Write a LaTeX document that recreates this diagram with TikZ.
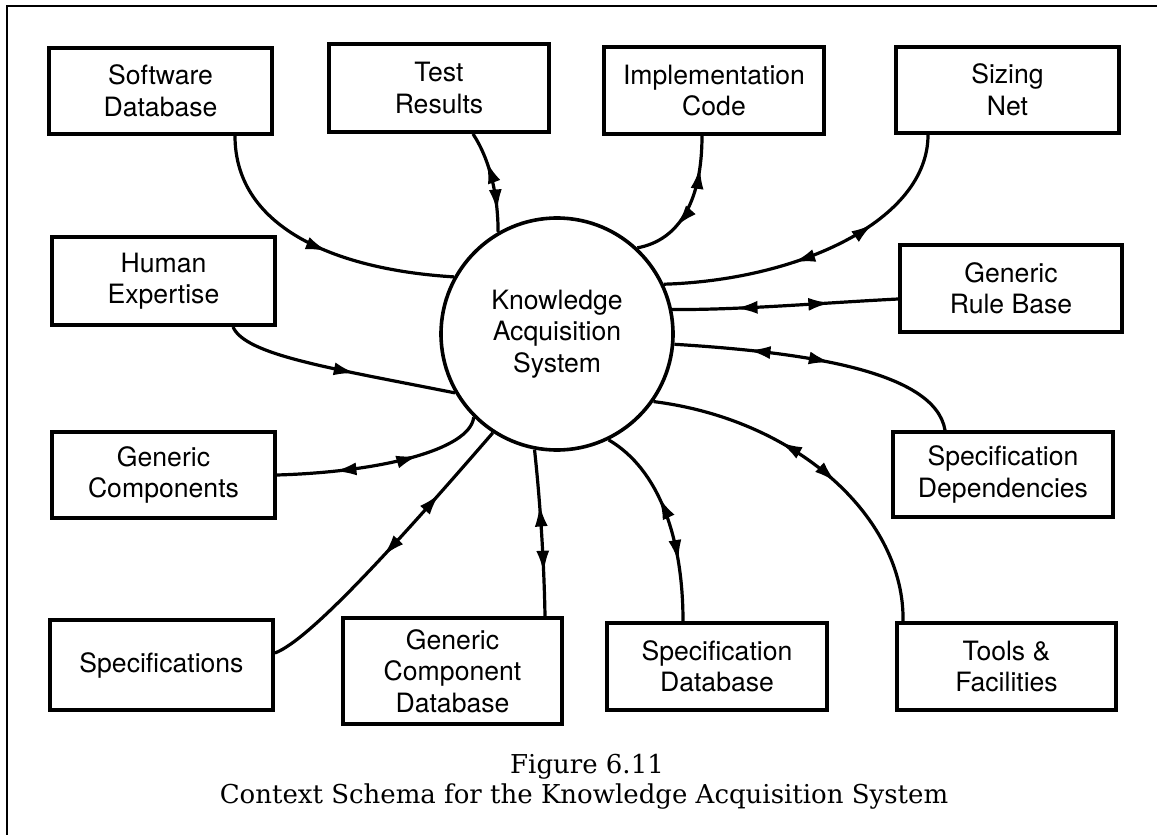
\documentclass[tikz,border=0pt]{standalone}
\usepackage{fontspec}
\newfontfamily\boxfont{TeX Gyre Heros}
\newfontfamily\capfont{DejaVu Serif}
\usetikzlibrary{arrows.meta,decorations.markings}
\tikzset{
  box/.style={draw, line width=1.9pt, align=center, inner sep=0pt,
    font=\boxfont\fontsize{13.3pt}{15.75pt}\selectfont},
  conn/.style={line width=1.6pt},
  fa/.style={postaction={decorate,decoration={markings,
    mark=at position #1 with {\arrow{Latex[length=11pt,width=6.5pt]}}}}},
  ra/.style={postaction={decorate,decoration={markings,
    mark=at position #1 with {\arrowreversed{Latex[length=11pt,width=6.5pt]}}}}},
  frameline/.style={line width=1.4pt},
  captext/.style={font=\capfont\fontsize{13pt}{15pt}\selectfont, inner sep=0pt}
}
\begin{document}
\begin{tikzpicture}[x=0.5pt,y=-0.5pt]
\useasboundingbox (0,0) rectangle (1157,835);
% frame
\coordinate (fbl) at (7,835);
\coordinate (ftl) at (7,6);
\coordinate (ftr) at (1157,6);
\draw[frameline] (fbl) -- (ftl) -- (ftr);

% central process
\node[circle, draw, line width=1.8pt, minimum size=116pt, inner sep=0pt, align=center,
  font=\boxfont\fontsize{13.3pt}{15.75pt}\selectfont] (K) at (557,334)
  {Knowledge\\Acquisition\\System};

% boxes
\node[box, minimum width=111.5pt, minimum height=43pt] (sd) at (160.5,91) {Software\\Database};
\node[box, minimum width=110pt, minimum height=44pt] (tr) at (439,88) {Test\\Results};
\node[box, minimum width=110pt, minimum height=43.5pt] (ic) at (714,90.5) {Implementation\\Code};
\node[box, minimum width=111.5pt, minimum height=43pt] (sn) at (1007.5,90) {Sizing\\Net};
\node[box, minimum width=111.5pt, minimum height=44pt] (he) at (163.5,281) {Human\\Expertise};
\node[box, minimum width=111pt, minimum height=43.5pt] (grb) at (1011,288.5) {Generic\\Rule Base};
\node[box, minimum width=111.5pt, minimum height=43pt] (gc) at (163.5,475) {Generic\\Components};
\node[box, minimum width=110pt, minimum height=42.5pt] (sdep) at (1003,474.5) {Specification\\Dependencies};
\node[box, minimum width=111.5pt, minimum height=45pt] (spec) at (161.5,665) {Specifications};
\node[box, minimum width=109.5pt, minimum height=53pt] (gcd) at (452.5,671) {Generic\\Component\\Database};
\node[box, minimum width=110pt, minimum height=43.5pt] (specdb) at (717,666.5) {Specification\\Database};
\node[box, minimum width=109.5pt, minimum height=43.5pt] (tf) at (1006.5,666.5) {Tools \&\\Facilities};

% connectors
\draw[conn, fa=0.55] ([xshift=37.25pt]sd.south) .. controls (235,230) and (340,270) .. (K.151);
\draw[conn, ra=0.3, fa=0.8] ([xshift=17pt]tr.south) .. controls (490,160) and (498,195) .. (K.120);
\draw[conn, ra=0.22, fa=0.68] ([xshift=-6pt]ic.south) .. controls (702,200) and (680,240) .. (K.47);
\draw[conn, ra=0.33, fa=0.6] ([xshift=-39.75pt]sn.south) .. controls (928,220) and (800,280) .. (K.25);
\draw[conn, ra=0.3, fa=0.72] ([yshift=-5.25pt]grb.west) .. controls (820,303) and (740,310) .. (K.12);
\draw[conn, ra=0.47, fa=0.75] ([xshift=-29pt]sdep.north) .. controls (935,370) and (800,352) .. (K.-5.5);
\draw[conn, ra=0.44, fa=0.63] ([xshift=-51.75pt]tf.north) .. controls (905,520) and (800,420) .. (K.-35.6);
\draw[conn, ra=0.29, fa=0.62] ([xshift=-17pt]specdb.north) .. controls (683,540) and (660,470) .. (K.-64);
\draw[conn, ra=0.26, fa=0.67] ([xshift=46.25pt]gcd.north) .. controls (544,560) and (540,500) .. (K.-101);
\draw[conn, ra=0.47, fa=0.74] ([yshift=6pt]spec.east) .. controls (310,640) and (400,540) .. (K.-123);
\draw[conn, ra=0.27, fa=0.67] (gc.east) .. controls (380,472) and (470,450) .. (K.-135);
\draw[conn, fa=0.57] ([xshift=34.75pt]he.south) .. controls (245,355) and (330,368) .. (K.-150);

% caption
\node[captext] (fig) at (587,767) {Figure 6.11};
\node[captext] (cap) at (584,797) {Context Schema for the Knowledge Acquisition System};
\end{tikzpicture}
\end{document}
